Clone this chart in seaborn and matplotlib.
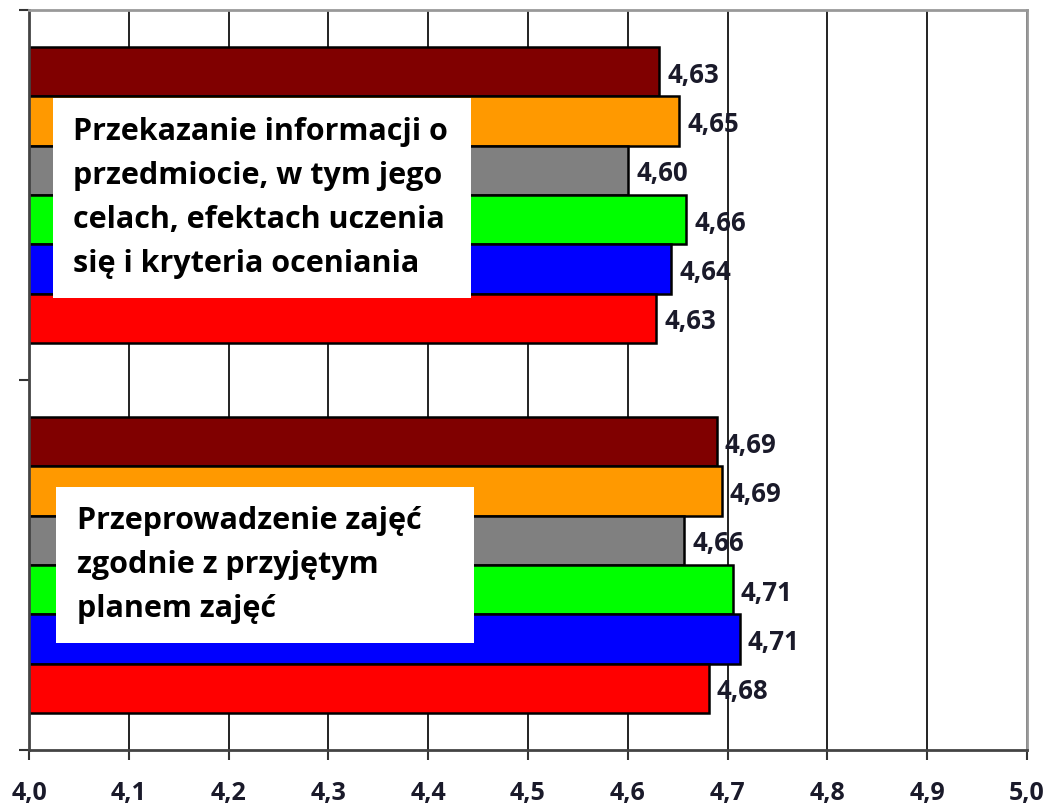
import pandas as pd
import seaborn as sns
import matplotlib.pyplot as plt
from matplotlib.patches import Rectangle

categories = ['Przekazanie informacji o przedmiocie', 'Przeprowadzenie zajęć zgodnie z planem']
box_texts = ['Przekazanie informacji o\nprzedmiocie, w tym jego\ncelach, efektach uczenia\nsię i kryteria oceniania',
             'Przeprowadzenie zajęć\nzgodnie z przyjętym\nplanem zajęć']
series = ['seria 1', 'seria 2', 'seria 3', 'seria 4', 'seria 5', 'seria 6']
values_info = [4.631, 4.651, 4.600, 4.658, 4.643, 4.628]
values_plan = [4.689, 4.694, 4.656, 4.705, 4.712, 4.681]
colors = ['#800000', '#FF9900', '#808080', '#00FF00', '#0000FF', '#FF0000']
xticks = [4.0, 4.1, 4.2, 4.3, 4.4, 4.5, 4.6, 4.7, 4.8, 4.9, 5.0]

df = pd.DataFrame({
    'Kategoria': [categories[0]] * 6 + [categories[1]] * 6,
    'Seria': series * 2,
    'Ocena': values_info + values_plan,
})

sns.set_style('ticks')
plt.rcParams['font.family'] = ['Open Sans', 'DejaVu Sans']

fig = plt.figure(figsize = (10.51, 8.11), dpi = 100)
ax = fig.add_axes([29 / 1051, 1 - 750 / 811, 998 / 1051, 740 / 811])

sns.barplot(data = df, x = 'Ocena', y = 'Kategoria', hue = 'Seria', order = categories,
            hue_order = series, palette = colors, orient = 'h', width = 0.8,
            edgecolor = 'black', linewidth = 1.8, saturation = 1, legend = False, ax = ax)

for cont in ax.containers:
    labels = ax.bar_label(cont, fmt = lambda v: f'{v:.2f}'.replace('.', ','), padding = 6,
                          fontsize = 18.5, fontweight = 'bold', color = '#1a1a2a')
    for lab in labels:
        lab.xyann = (lab.xyann[0], -2.5)

ax.set_xlim(4.0, 5.0)
ax.set_ylim(1.5, -0.5)
ax.set_xticks(xticks)
ax.set_xticklabels([f'{t:.1f}'.replace('.', ',') for t in xticks], fontsize = 18, fontweight = 'bold', color = '#1a1a2a')
ax.set_yticks([-0.5, 0.5, 1.5])
ax.set_yticklabels([])
ax.tick_params(axis = 'both', direction = 'out', length = 7, width = 1.5, color = '#333333')
ax.tick_params(axis = 'x', pad = 15)
ax.set_xlabel('')
ax.set_ylabel('')
ax.grid(axis = 'x', color = '#222222', linewidth = 1.4)
ax.set_axisbelow(True)

for side in ['left', 'bottom']:
    ax.spines[side].set_color('#444444')
    ax.spines[side].set_linewidth(2)
for side in ['top', 'right']:
    ax.spines[side].set_visible(True)
    ax.spines[side].set_color('#999999')
    ax.spines[side].set_linewidth(2)

# white text boxes over the bars
boxes = [(0.024, 0.611, 0.419, 0.270, 0.044), (0.027, 0.145, 0.419, 0.210, 0.048)]
for (bx, by, bw, bh, tx), txt in zip(boxes, box_texts):
    ax.add_patch(Rectangle((bx, by), bw, bh, transform = ax.transAxes, facecolor = 'white',
                           edgecolor = 'none', zorder = 5))
    ax.text(tx, by + bh / 2, txt, transform = ax.transAxes, ha = 'left', va = 'center',
            fontsize = 22, fontweight = 'bold', linespacing = 1.62, color = 'black', zorder = 6)

plt.savefig('out.png', dpi = 100)
